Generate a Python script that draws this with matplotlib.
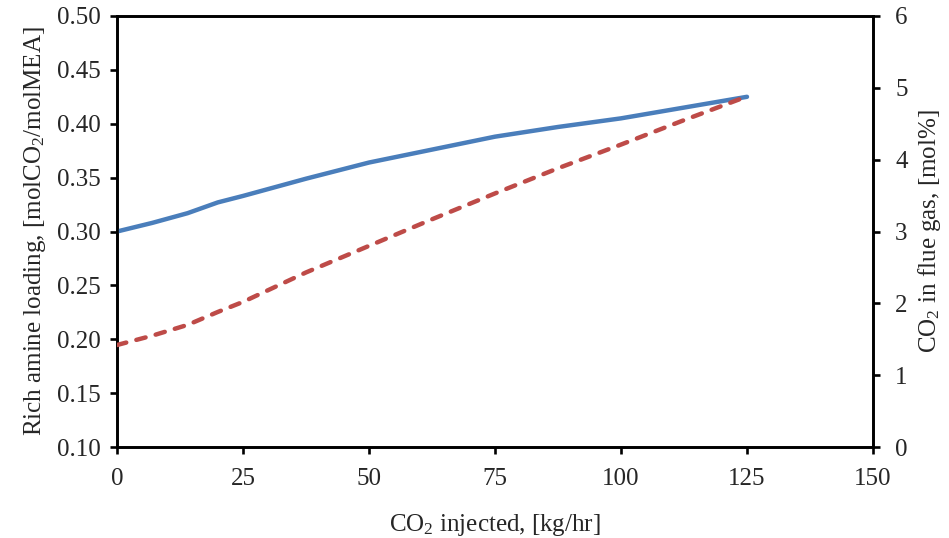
import matplotlib
matplotlib.use("Agg")
import matplotlib.pyplot as plt

plt.rcParams['font.family'] = ['Liberation Serif', 'DejaVu Serif']
plt.rcParams['mathtext.default'] = 'regular'

co2_injected = [0, 7, 14, 20, 25, 37.5, 50, 62.5, 75, 87.5, 100, 112.5, 125]
rich_loading = [0.300, 0.308, 0.317, 0.327, 0.333, 0.349, 0.364, 0.376, 0.388, 0.397, 0.405, 0.415, 0.425]
co2_flue_gas = [1.42, 1.55, 1.70, 1.88, 2.02, 2.43, 2.80, 3.17, 3.53, 3.88, 4.21, 4.55, 4.88]

x_ticks = [0, 25, 50, 75, 100, 125, 150]
left_ticks = [0.10, 0.15, 0.20, 0.25, 0.30, 0.35, 0.40, 0.45, 0.50]
right_ticks = [0, 1, 2, 3, 4, 5, 6]

fig = plt.figure(figsize=(9.49, 5.38), dpi=100)
ax = fig.add_axes([0.1233, 0.1691, 0.7966, 0.8012])
ax2 = ax.twinx()

ax.plot(co2_injected, rich_loading, color='#4A7EBB', lw=3.2, solid_capstyle='round', zorder=3)
ax2.plot(co2_injected, co2_flue_gas, color='#BE4B48', lw=3.2, linestyle=(0, (2.15, 2.35)), dash_capstyle='round', zorder=3)

ax.set_xlim(0, 150)
ax.set_ylim(0.10, 0.50)
ax2.set_ylim(0, 6)
ax.set_xticks(x_ticks)
ax.set_xticklabels([str(v) for v in x_ticks])
ax.set_yticks(left_ticks)
ax.set_yticklabels([f"{v:.2f}" for v in left_ticks])
ax2.set_yticks(right_ticks)
ax2.set_yticklabels([str(v) for v in right_ticks])

for a in (ax, ax2):
    for s in a.spines.values():
        s.set_linewidth(1.9)
        s.set_color('black')

ax.tick_params(axis='both', direction='out', length=5, width=1.9, labelsize=18, colors='#262626', pad=7)
ax.tick_params(axis='x', pad=10)
ax2.tick_params(axis='y', direction='out', length=5, width=1.9, labelsize=18, colors='#262626', pad=11)
for a in (ax, ax2):
    a.tick_params(color='black')

ax.set_xlabel("CO$_2$ injected, [kg/hr]", fontsize=18, labelpad=16, color='#262626')
ax.set_ylabel("Rich amine loading, [molCO$_2$/molMEA]", fontsize=18, labelpad=6, color='#262626')
ax2.set_ylabel("CO$_2$ in flue gas, [mol%]", fontsize=18, labelpad=6, rotation=90, color='#262626')

fig.savefig("out.png", dpi=100)
